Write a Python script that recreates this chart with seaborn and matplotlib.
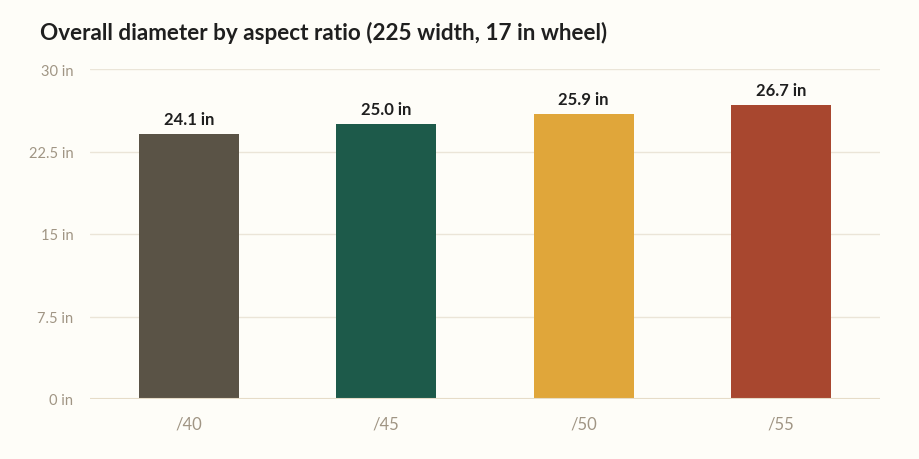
import matplotlib
matplotlib.use('Agg')
import matplotlib.pyplot as plt
import seaborn as sns
import pandas as pd

RATIOS = ['/40', '/45', '/50', '/55']
DIAMETERS = [24.1, 25.0, 25.9, 26.7]
COLOURS = ['#5a5346', '#1d5a4a', '#e0a63a', '#a8472f']
YTICKS = [0, 7.5, 15, 22.5, 30]

BG = '#fefdf8'
GRID = '#ebe5d8'
MUTED = '#a09584'

sns.set_theme(style='white')
plt.rcParams['font.family'] = ['Lato', 'DejaVu Sans']

df = pd.DataFrame({'ratio': RATIOS, 'diameter': DIAMETERS})

fig = plt.figure(figsize=(9.2, 4.6), dpi=100, facecolor=BG)
ax = fig.add_axes([90 / 920, 60 / 460, 790 / 920, 330 / 460])
ax.set_facecolor(BG)

sns.barplot(data=df, x='ratio', y='diameter', hue='ratio', palette=COLOURS,
            width=0.506, legend=False, ax=ax, zorder=3, saturation=1,
            linewidth=0)

ax.set_xlim(-0.5, 3.5)
ax.set_ylim(0, 30)
ax.set_yticks(YTICKS)
ax.set_yticklabels([f'{t:g} in' for t in YTICKS])
ax.yaxis.grid(True, color=GRID, linewidth=1, zorder=0)
ax.xaxis.grid(False)
for s in ax.spines.values():
    s.set_visible(False)
ax.axhline(0, color='#e6dcc8', linewidth=1.5, zorder=4)
ax.tick_params(axis='y', length=0, pad=12, labelsize=10.5, labelcolor=MUTED)
ax.tick_params(axis='x', length=0, pad=12, labelsize=12, labelcolor=MUTED)
ax.set_xlabel('')
ax.set_ylabel('')

for i, v in enumerate(DIAMETERS):
    ax.annotate(f'{v:.1f} in', (i, v), xytext=(0, 5), textcoords='offset points',
                ha='center', va='bottom', fontsize=12, fontweight='bold',
                color='#1f1f1f')

fig.text(40 / 920, 1 - 33 / 460, 'Overall diameter by aspect ratio (225 width, 17 in wheel)',
         ha='left', va='center', fontsize=16.2, fontweight='bold', color='#1f1f1f')

fig.savefig('out.png', dpi=100, facecolor=BG)
